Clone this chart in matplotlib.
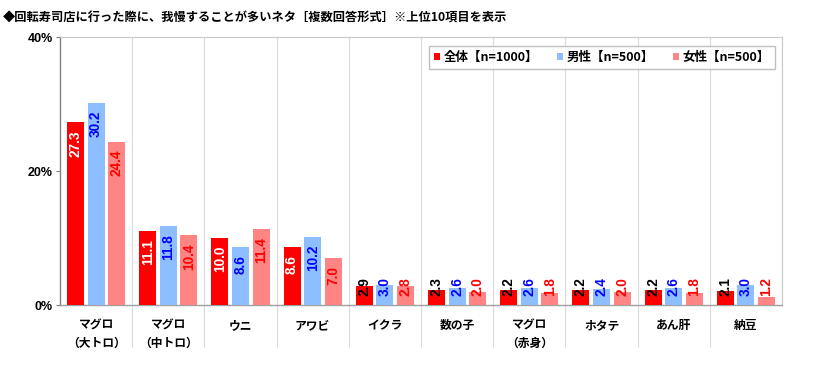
import matplotlib
matplotlib.use('Agg')
import matplotlib.pyplot as plt
import numpy as np

plt.rcParams['font.family'] = ['Noto Sans CJK JP', 'DejaVu Sans']

# ---- data ----
categories = ['マグロ\n（大トロ）', 'マグロ\n（中トロ）', 'ウニ', 'アワビ', 'イクラ',
              '数の子', 'マグロ\n（赤身）', 'ホタテ', 'あん肝', '納豆']
total = [27.3, 11.1, 10.0, 8.6, 2.9, 2.3, 2.2, 2.2, 2.2, 2.1]
male = [30.2, 11.8, 8.6, 10.2, 3.0, 2.6, 2.6, 2.4, 2.6, 3.0]
female = [24.4, 10.4, 11.4, 7.0, 2.8, 2.0, 1.8, 2.0, 1.8, 1.2]
series_names = ['全体【n=1000】', '男性【n=500】', '女性【n=500】']
title = '◆回転寿司店に行った際に、我慢することが多いネタ［複数回答形式］※上位10項目を表示'

bar_colors = ['#FF0000', '#8DBEFF', '#FF8585']
label_colors = ['white', '#0000FF', '#FF0000']

fig = plt.figure(figsize=(8.26, 3.65), dpi=100)
ax = fig.add_axes([60 / 826, 1 - 305 / 365, (782 - 60) / 826, (305 - 37) / 365])

x = np.arange(len(categories))
width = 0.235
step = 0.285
num_font = ['Liberation Sans', 'DejaVu Sans']

for i, (vals, col, lcol) in enumerate(zip([total, male, female], bar_colors, label_colors)):
    xs = x + (i - 1) * step
    ax.bar(xs, vals, width=width, color=col, label=series_names[i], zorder=3)
    for xi, v in zip(xs, vals):
        # labels sit just inside the bar top, small bars get them from the base up
        top = max(v - 1.2, 4.1)
        c = lcol
        if i == 0 and v < 5:
            c = 'black'
        ax.text(xi, top, f'{v:.1f}', rotation=90, ha='center', va='top',
                color=c, fontsize=9.8, fontweight='bold', family=num_font, zorder=4)

ax.set_xlim(-0.5, len(categories) - 0.5)
ax.set_ylim(0, 40)
ax.set_yticks([0, 20, 40])
ax.set_yticklabels(['0%', '20%', '40%'], fontsize=9, fontweight='bold', family=num_font)
ax.tick_params(axis='y', length=3, width=0.8, color='#808080', pad=2)

ax.set_xticks(x)
ax.set_xticklabels(categories, fontsize=8.5, fontweight='bold', linespacing=1.5)
ax.tick_params(axis='x', which='major', length=0, pad=10)
ax.set_xticks(x[:-1] + 0.5, minor=True)
ax.tick_params(axis='x', which='minor', length=30, width=0.8, color='#D9D9D9')
ax.grid(axis='x', which='minor', color='#D9D9D9', linewidth=0.8, zorder=0)

for s in ['top', 'right']:
    ax.spines[s].set_color('#C8C8C8')
    ax.spines[s].set_linewidth(0.8)
ax.spines['left'].set_color('#808080')
ax.spines['left'].set_linewidth(1.0)
ax.spines['bottom'].set_color('#A0A0A0')
ax.spines['bottom'].set_linewidth(1.0)

leg = ax.legend(loc='upper right', bbox_to_anchor=(0.999, 0.99), ncol=3, frameon=True,
                fancybox=False, edgecolor='#B0B0B0', handlelength=0.5, handleheight=0.5,
                handletextpad=0.3, columnspacing=1.5, borderpad=0.4,
                prop={'weight': 'bold', 'size': 9})
leg.get_frame().set_linewidth(1.0)

fig.text(3 / 826, 1 - 18 / 365, title, fontsize=8.8, fontweight='bold', va='center', ha='left')

fig.savefig('out.png', dpi=100)
